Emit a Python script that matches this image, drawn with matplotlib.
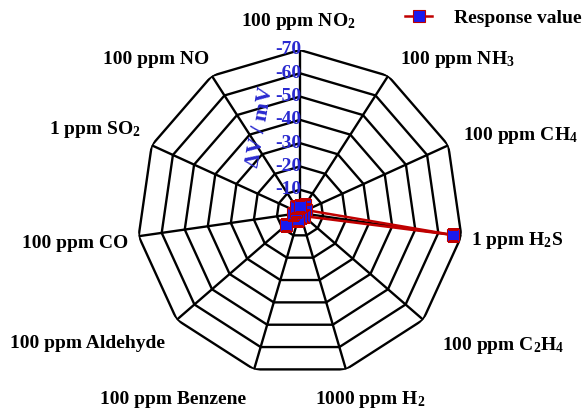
import numpy as np
import matplotlib
matplotlib.use('Agg')
import matplotlib.pyplot as plt
from matplotlib.lines import Line2D

gases = ["100 ppm $\\mathrm{NO_2}$", "100 ppm $\\mathrm{NH_3}$", "100 ppm $\\mathrm{CH_4}$",
         "1 ppm $\\mathrm{H_2S}$", "100 ppm $\\mathrm{C_2H_4}$", "1000 ppm $\\mathrm{H_2}$",
         "100 ppm Benzene", "100 ppm Aldehyde", "100 ppm CO", "1 ppm $\\mathrm{SO_2}$",
         "100 ppm NO"]
response = [-3, -4, -3, -66.5, -2, -2, -3, -8, -3, -2, -3]
rings = [-10, -20, -30, -40, -50, -60, -70]

# label centres in pixels (x, y from top)
label_pos = [(298, 22), (457, 60), (520, 135), (517, 240), (503, 345), (370, 400),
             (173, 400), (88, 343), (75, 243), (95, 130), (156, 60)]

plt.rcParams['font.family'] = 'Liberation Serif'
plt.rcParams['font.weight'] = 'bold'
plt.rcParams['mathtext.fontset'] = 'custom'
plt.rcParams['mathtext.rm'] = 'Liberation Serif:bold'
plt.rcParams['mathtext.it'] = 'Liberation Serif:bold'
plt.rcParams['mathtext.bf'] = 'Liberation Serif:bold'
plt.rcParams['axes.unicode_minus'] = False

W, H = 588, 409
fig = plt.figure(figsize=(W / 100, H / 100), dpi=100)
cx, cy, R = 300, 213, 163
ax = fig.add_axes([(cx - R) / W, 1 - (cy + R) / H, 2 * R / W, 2 * R / H], projection='polar')
ax.set_theta_zero_location('N')
ax.set_theta_direction(-1)
ax.set_ylim(0, -70)
ax.grid(False)
ax.spines['polar'].set_visible(False)
ax.set_xticks([])
ax.set_yticks([])
ax.patch.set_alpha(0)

n = len(gases)
theta = np.arange(n) * 2 * np.pi / n
tc = np.append(theta, theta[0])

for r in rings:
    ax.plot(tc, [r] * (n + 1), color='black', lw=1.7, zorder=1)
for t in theta:
    ax.plot([t, t], [0, rings[-1]], color='black', lw=1.7, zorder=1)

for r in rings:
    ax.annotate(str(r), xy=(0, r), xytext=(1, 0), textcoords='offset points',
                ha='right', va='center', color='#2a2ad0', fontsize=14, zorder=3)

vals = np.append(response, response[0])
ax.plot(tc, vals, color='#c00000', lw=1.8, marker='s', markersize=8,
        mfc='#1a1aee', mec='#c00000', mew=0.8, zorder=4)

for lab, (x, y) in zip(gases, label_pos):
    fig.text(x / W, 1 - y / H, lab, ha='center', va='center', fontsize=14)

fig.text(260 / W, 1 - 127 / H, "\u0394V / mV", rotation=80, ha='center', va='center',
         color='#2a2ad0', fontsize=16)

h = Line2D([], [], color='#c00000', lw=1.8, marker='s', markersize=8,
           mfc='#1a1aee', mec='#c00000', mew=0.8)
fig.legend([h], ["Response value"], loc='center left', bbox_to_anchor=(405 / W, 1 - 18 / H),
           frameon=False, fontsize=14, handlelength=1.4, borderpad=0, borderaxespad=0,
           handletextpad=1.1)

fig.savefig("out.png", dpi=100)
